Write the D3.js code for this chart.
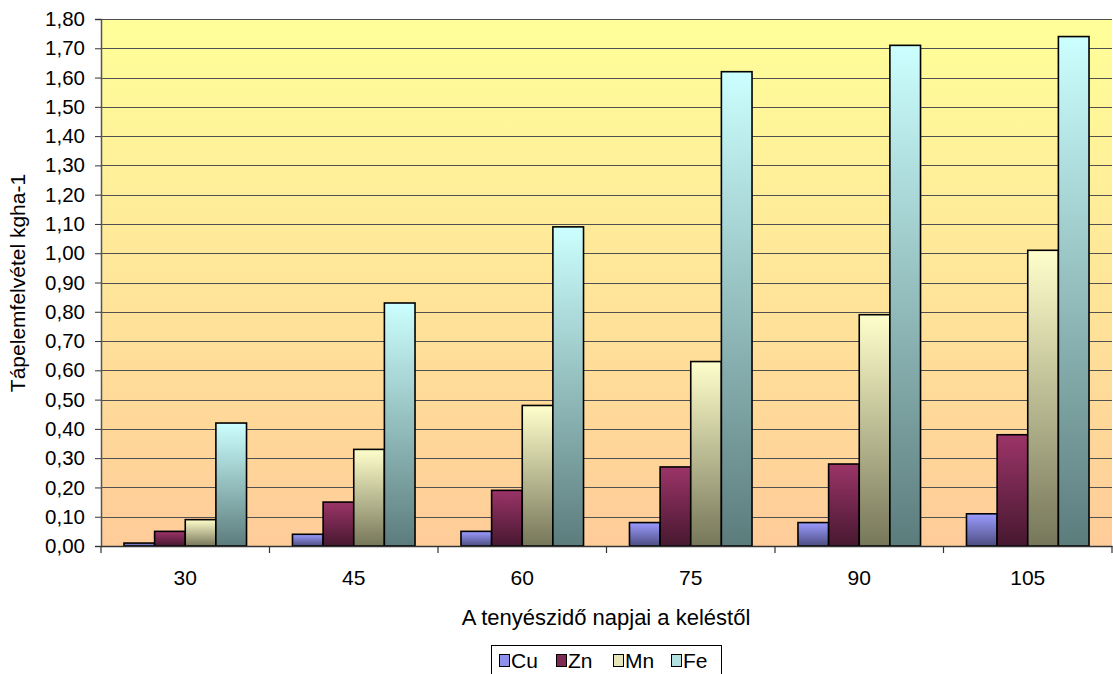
<!DOCTYPE html>
<html><head><meta charset="utf-8">
<script src="https://cdn.jsdelivr.net/npm/d3@7"></script>
<style>body{margin:0;background:#fff}svg{display:block;font-family:"Liberation Sans",Arial,sans-serif}</style>
</head><body><svg id="c" width="1113" height="674"></svg>
<script>
const categories = ["30","45","60","75","90","105"];
const seriesNames = ["Cu","Zn","Mn","Fe"];
const Cu = [0.01,0.04,0.05,0.08,0.08,0.11];
const Zn = [0.05,0.15,0.19,0.27,0.28,0.38];
const Mn = [0.09,0.33,0.48,0.63,0.79,1.01];
const Fe = [0.42,0.83,1.09,1.62,1.71,1.74];
const yTicks = [0,0.1,0.2,0.3,0.4,0.5,0.6,0.7,0.8,0.9,1.0,1.1,1.2,1.3,1.4,1.5,1.6,1.7,1.8];
const values = {Cu, Zn, Mn, Fe};
const colors = {
  Cu:["#9c9cff","#4d4d82"], Zn:["#9b3468","#471830"],
  Mn:["#ffffcc","#76765a"], Fe:["#ccffff","#5c7c7c"]
};
const legendColors = {Cu:"#8f8fec",Zn:"#7d2a55",Mn:"#e6e6b8",Fe:"#b3e0e0"};

const svg = d3.select("#c");
const L=101, R=1112, T=19, B=546;
const x = d3.scaleBand().domain(categories).range([L,R]).padding(0);
const xi = d3.scaleBand().domain(seriesNames).range([0,x.bandwidth()]).paddingInner(0).paddingOuter(0.75);
const y = d3.scaleLinear().domain([0,1.8]).range([B,T]);

const defs = svg.append("defs");
const bg = defs.append("linearGradient").attr("id","bg").attr("x1",0).attr("y1",0).attr("x2",0).attr("y2",1);
bg.append("stop").attr("offset","0%").attr("stop-color","#ffff99");
bg.append("stop").attr("offset","100%").attr("stop-color","#ffcc99");
seriesNames.forEach(s=>{
  const g = defs.append("linearGradient").attr("id","g"+s).attr("x1",0).attr("y1",0).attr("x2",0).attr("y2",1);
  g.append("stop").attr("offset","0%").attr("stop-color",colors[s][0]);
  g.append("stop").attr("offset","100%").attr("stop-color",colors[s][1]);
});

svg.append("rect").attr("x",L).attr("y",T).attr("width",R-L).attr("height",B-T).attr("fill","url(#bg)");

// gridlines
svg.append("g").selectAll("line").data(yTicks.slice(1)).join("line")
  .attr("x1",L).attr("x2",R).attr("y1",d=>Math.round(y(d))+0.5).attr("y2",d=>Math.round(y(d))+0.5)
  .attr("stroke","#505050").attr("stroke-width",1.2);

// bars
const gCat = svg.append("g").selectAll("g").data(categories).join("g")
  .attr("transform",d=>`translate(${x(d)},0)`);
gCat.selectAll("rect").data((c,i)=>seriesNames.map(s=>({s,v:values[s][i]}))).join("rect")
  .attr("x",d=>xi(d.s)).attr("width",xi.bandwidth())
  .attr("y",d=>y(d.v)).attr("height",d=>B-y(d.v))
  .attr("fill",d=>"url(#g"+d.s+")").attr("stroke","#000").attr("stroke-width",1.6);

// y axis
const ya = svg.append("g").attr("transform",`translate(${L},0)`)
  .call(d3.axisLeft(y).tickValues(yTicks).tickSize(6).tickPadding(10)
    .tickFormat(d=>d3.format(".2f")(d).replace(".",",")));
ya.select(".domain").attr("stroke","#555").attr("stroke-width",1.5);
ya.selectAll(".tick line").attr("stroke","#333");
ya.selectAll("text").attr("font-size",20.5).attr("fill","#000").attr("font-family","Liberation Sans, Arial, sans-serif");

// x axis
const xa = svg.append("g").attr("transform",`translate(0,${B})`)
  .call(d3.axisBottom(x).tickSize(0).tickPadding(24));
xa.select(".domain").attr("stroke","#333").attr("stroke-width",1.5);
xa.selectAll("text").attr("font-size",21).attr("fill","#000").attr("font-family","Liberation Sans, Arial, sans-serif");
svg.append("g").selectAll("line").data(categories.concat(["end"])).join("line")
  .attr("x1",(d,i)=>i<categories.length?x(d):R).attr("x2",(d,i)=>i<categories.length?x(d):R)
  .attr("y1",B).attr("y2",B+7).attr("stroke","#333").attr("stroke-width",1.2);

// titles
svg.append("text").attr("x",606).attr("y",625).attr("text-anchor","middle").attr("font-size",22).text("A tenyészidő napjai a keléstől");
svg.append("text").attr("transform","translate(25,283) rotate(-90)").attr("text-anchor","middle").attr("font-size",21).text("Tápelemfelvétel kgha-1");

// legend
const lg = svg.append("g");
lg.append("rect").attr("x",491.5).attr("y",645.5).attr("width",230).attr("height",40).attr("fill","#fff").attr("stroke","#000").attr("stroke-width",1);
const lx = [499,556,613,671];
seriesNames.forEach((s,i)=>{
  lg.append("rect").attr("x",lx[i]+0.5).attr("y",654.5).attr("width",10).attr("height",12).attr("fill",legendColors[s]).attr("stroke","#000");
  lg.append("text").attr("x",lx[i]+12).attr("y",668).attr("font-size",21).text(s);
});
</script></body></html>
